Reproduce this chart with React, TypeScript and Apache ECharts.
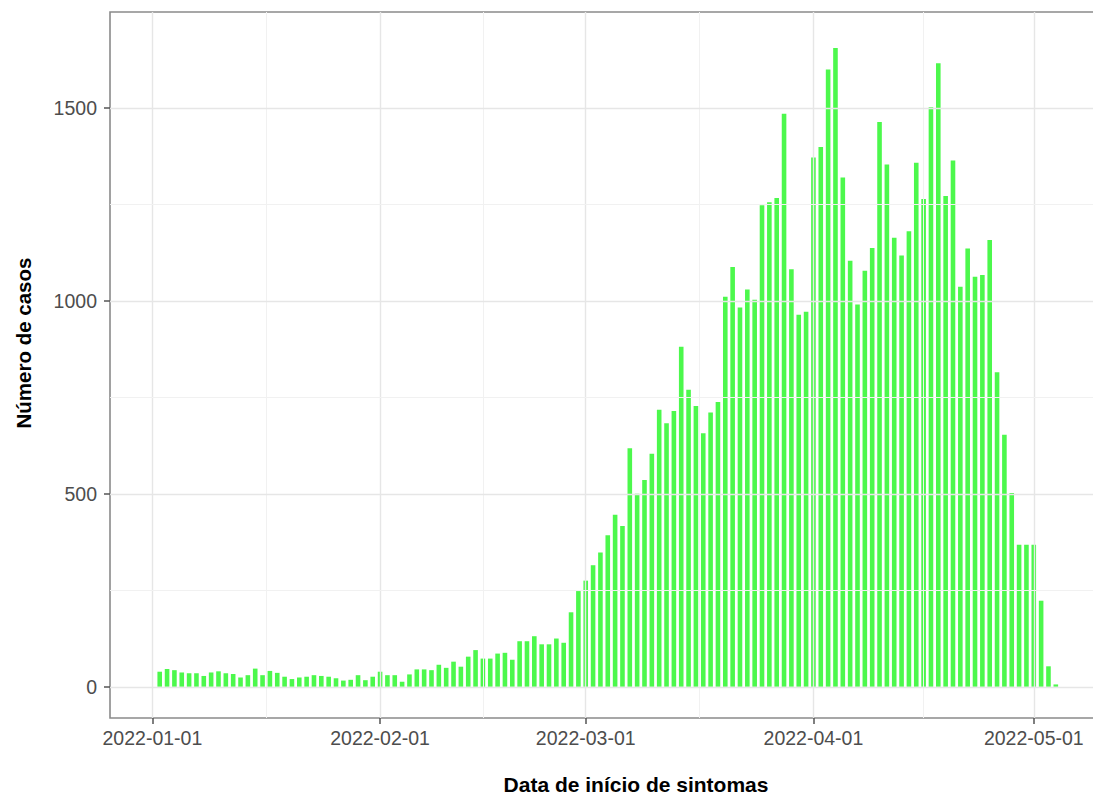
import React, { useEffect, useRef } from 'react';
import * as echarts from 'echarts';

// Daily case counts by symptom-onset date (first bar is 2022-01-02)
const firstDate = '2022-01-02';
const janValues = [39, 46, 43, 37, 35, 35, 28, 37, 40, 35, 33, 24, 30, 47, 30, 41, 36, 26, 20, 24, 26, 30, 28, 26, 22, 16, 18, 30, 17, 26];
const febValues = [39, 30, 30, 13, 32, 45, 45, 43, 57, 49, 65, 52, 78, 95, 73, 73, 86, 88, 70, 118, 118, 131, 110, 110, 125, 114, 193, 248];
const marValues = [275, 315, 348, 393, 446, 417, 618, 500, 536, 604, 718, 683, 715, 881, 770, 728, 657, 711, 738, 1011, 1088, 983, 1030, 1003, 1248, 1256, 1267, 1485, 1082, 964, 972];
const aprValues = [1372, 1399, 1600, 1656, 1320, 1104, 991, 1078, 1137, 1464, 1354, 1164, 1118, 1181, 1358, 1264, 1502, 1616, 1272, 1364, 1037, 1136, 1063, 1067, 1158, 815, 653, 502, 368, 368];
const mayValues = [368, 223, 53, 6];

const xTickLabels = ['2022-01-01', '2022-02-01', '2022-03-01', '2022-04-01', '2022-05-01'];
const yTickValues = [0, 500, 1000, 1500];
const yMinorValues = [250, 750, 1250];

const yTitle = 'Número de casos';
const xTitle = 'Data de início de sintomas';

const DAY = 86400000;
const FONT = '"Liberation Sans", Arial, Helvetica, sans-serif';

function parseUTC(s: string): number {
  const [y, m, d] = s.split('-').map(Number);
  return Date.UTC(y, m - 1, d);
}
function fmtUTC(v: number): string {
  const d = new Date(v);
  const p = (n: number) => String(n).padStart(2, '0');
  return `${d.getUTCFullYear()}-${p(d.getUTCMonth() + 1)}-${p(d.getUTCDate())}`;
}

export default function App() {
  const ref = useRef<HTMLDivElement>(null);
  useEffect(() => {
    if (!ref.current) return;
    const chart = echarts.init(ref.current, undefined, { renderer: 'svg' });

    const allValues = [...janValues, ...febValues, ...marValues, ...aprValues, ...mayValues];
    const start = parseUTC(firstDate);
    const barData = allValues.map((v, i) => [start + i * DAY, v]);

    const xTicks = xTickLabels.map(parseUTC);
    const xMinor: number[] = [];
    for (let i = 0; i < xTicks.length - 1; i++) xMinor.push((xTicks[i] + xTicks[i + 1]) / 2);

    const t0 = xTicks[0];
    const xMin = t0 - 5.77 * DAY;
    const xMax = t0 + 129.56 * DAY;

    const major = { color: '#e6e6e6', width: 1.4, type: 'solid' };
    const minor = { color: '#f1f1f1', width: 1.0, type: 'solid' };

    const gridLines = [
      ...xTicks.map((v) => ({ xAxis: v, lineStyle: major })),
      ...xMinor.map((v) => ({ xAxis: v, lineStyle: minor })),
      ...yTickValues.map((v) => ({ yAxis: v, lineStyle: major })),
      ...yMinorValues.map((v) => ({ yAxis: v, lineStyle: minor })),
    ];

    const option: any = {
      animation: false,
      grid: {
        left: 110,
        top: 12,
        right: 16,
        bottom: 78,
        show: true,
        borderColor: '#8a8a8a',
        borderWidth: 1.6,
        backgroundColor: 'transparent',
        containLabel: false,
        outerBoundsMode: 'none',
      },
      xAxis: {
        type: 'value',
        min: xMin,
        max: xMax,
        scale: true,
        axisLine: { show: false, onZero: false },
        axisTick: { show: true, length: 6, lineStyle: { color: '#555', width: 1.5 }, customValues: xTicks },
        axisLabel: {
          customValues: xTicks,
          formatter: (v: number) => fmtUTC(v),
          color: '#4d4d4d',
          fontSize: 19.5,
          fontFamily: FONT,
          margin: 10,
          hideOverlap: false,
        },
        splitLine: { show: false },
      },
      yAxis: {
        type: 'value',
        min: -81,
        max: 1749,
        axisLine: { show: false, onZero: false },
        axisTick: { show: true, length: 6, lineStyle: { color: '#555', width: 1.5 }, customValues: yTickValues },
        axisLabel: {
          customValues: yTickValues,
          formatter: (v: number) => String(v),
          color: '#4d4d4d',
          fontSize: 19.5,
          fontFamily: FONT,
          margin: 13,
        },
        splitLine: { show: false },
      },
      series: [
        {
          type: 'line',
          data: [],
          silent: true,
          z: 1,
          markLine: {
            silent: true,
            animation: false,
            symbol: ['none', 'none'],
            label: { show: false },
            emphasis: { disabled: true },
            data: gridLines,
          },
        },
        {
          type: 'bar',
          data: barData,
          barWidth: 4.6,
          z: 3,
          itemStyle: { color: '#4cf84c' },
          silent: true,
        },
      ],
      graphic: [
        {
          type: 'text',
          x: 23,
          y: 343,
          rotation: Math.PI / 2,
          style: {
            text: yTitle,
            fontSize: 20.5,
            fontWeight: 'bold',
            fontFamily: FONT,
            fill: '#000',
            textAlign: 'center',
            textVerticalAlign: 'middle',
          },
        },
        {
          type: 'text',
          x: 636,
          y: 784,
          style: {
            text: xTitle,
            fontSize: 21,
            fontWeight: 'bold',
            fontFamily: FONT,
            fill: '#000',
            textAlign: 'center',
            textVerticalAlign: 'middle',
          },
        },
      ],
    };
    chart.setOption(option);
    return () => chart.dispose();
  }, []);

  return (
    <div style={{ position: 'absolute', left: 0, top: 0, width: 1093, height: 796, overflow: 'hidden', background: '#fff' }}>
      <div ref={ref} style={{ width: 1120, height: 796 }} />
    </div>
  );
}
